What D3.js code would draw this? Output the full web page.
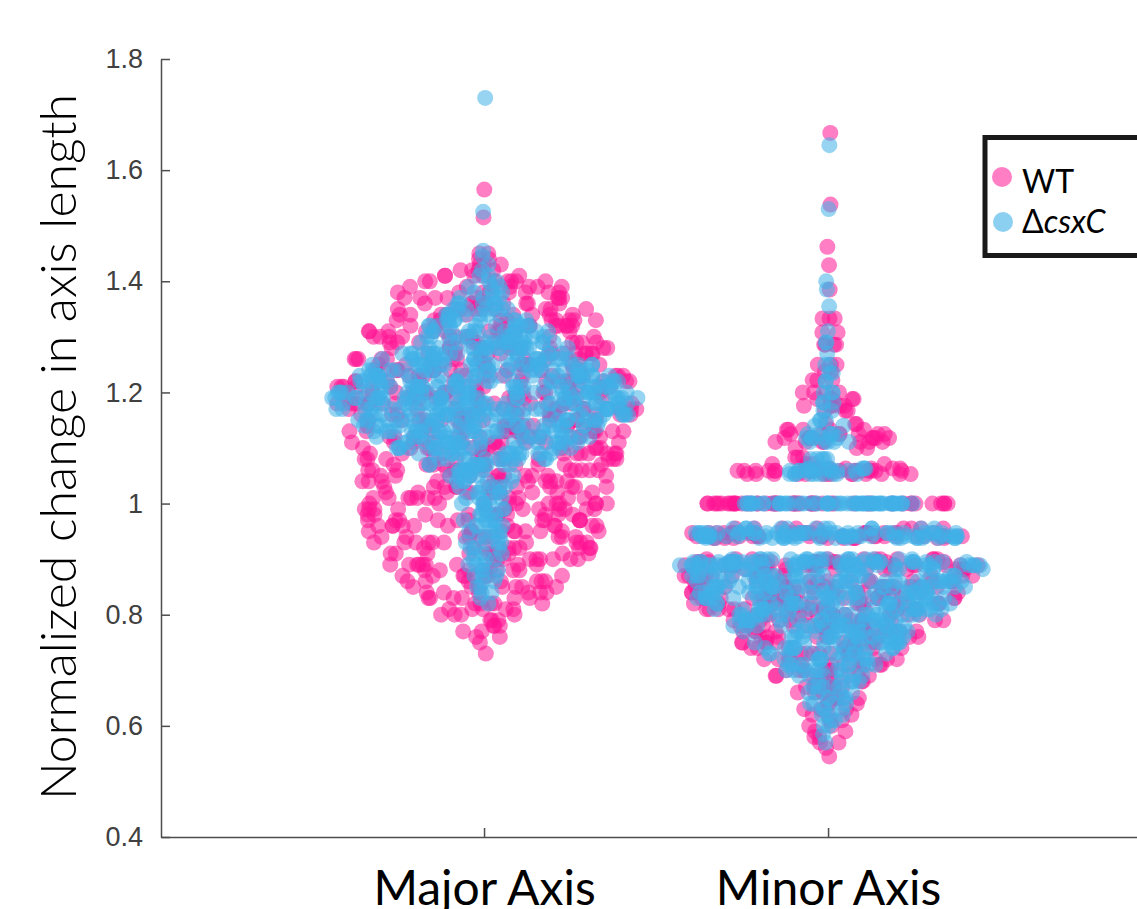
<!DOCTYPE html>
<html lang="en">
<head>
<meta charset="utf-8">
<script src="https://cdn.jsdelivr.net/npm/d3@7/dist/d3.min.js"></script>
<style>
body { margin: 0; background: #fff; }
</style>
<title>Normalized change in axis length</title>
</head>
<body>
<script>

var w = 1137;
var h = 909;

var categories = ["Major Axis", "Minor Axis"];
var seriesNames = ["WT", "csxC"];
var yTicks = [0.4, 0.6, 0.8, 1, 1.2, 1.4, 1.6, 1.8];
var yTickLabels = ["0.4", "0.6", "0.8", "1", "1.2", "1.4", "1.6", "1.8"];

// [value, number of cells at that value]
var majorWT = [[0.73,1],[0.75,1],[0.76,2],[0.77,2],[0.78,3],[0.79,3],[0.80,4],[0.81,5],[0.82,5],[0.83,6],
  [0.84,6],[0.85,7],[0.86,7],[0.87,8],[0.88,8],[0.89,9],[0.90,9],[0.91,9],[0.92,10],[0.93,10],[0.94,10],
  [0.95,10],[0.96,11],[0.97,11],[0.98,11],[0.99,11],[1.00,11],[1.01,11],[1.02,11],[1.03,11],[1.04,11],
  [1.05,11],[1.06,11],[1.07,12],[1.08,12],[1.09,12],[1.10,12],[1.11,12],[1.12,12],[1.13,13],[1.14,13],
  [1.15,13],[1.16,13],[1.17,14],[1.18,14],[1.19,14],[1.20,14],[1.21,13],[1.22,13],[1.23,13],[1.24,12],
  [1.25,12],[1.26,12],[1.27,12],[1.28,11],[1.29,11],[1.30,11],[1.31,11],[1.32,10],[1.33,10],[1.34,10],
  [1.35,9],[1.36,9],[1.37,8],[1.38,8],[1.39,7],[1.40,7],[1.41,5],[1.42,4],[1.43,3],[1.44,2],[1.45,2],
  [1.515,1],[1.565,1]];

var majorCsxC = [[0.82,1],[0.83,1],[0.84,2],[0.85,2],[0.86,2],[0.87,3],[0.88,3],[0.89,3],[0.90,3],[0.91,3],
  [0.92,3],[0.93,4],[0.94,3],[0.95,4],[0.96,4],[0.97,4],[0.98,4],[0.99,4],[1.00,4],[1.01,4],[1.02,4],
  [1.03,5],[1.04,5],[1.05,6],[1.06,8],[1.07,10],[1.08,11],[1.09,13],[1.10,16],[1.11,18],[1.12,19],
  [1.13,21],[1.14,22],[1.15,24],[1.16,26],[1.17,27],[1.18,28],[1.19,28],[1.20,27],[1.21,25],[1.22,24],
  [1.23,22],[1.24,21],[1.25,20],[1.26,18],[1.27,17],[1.28,15],[1.29,14],[1.30,13],[1.31,11],[1.32,10],
  [1.33,8],[1.34,7],[1.35,7],[1.36,5],[1.37,4],[1.38,3],[1.39,3],[1.40,2],[1.41,2],[1.42,1],[1.43,1],
  [1.445,1],[1.455,1],[1.525,1],[1.73,1]];

var minorWT = [[0.545,1],[0.56,1],[0.57,2],[0.58,2],[0.59,2],[0.60,2],[0.61,2],[0.62,3],[0.63,3],[0.64,3],
  [0.65,4],[0.66,4],[0.67,5],[0.68,5],[0.69,6],[0.70,7],[0.71,7],[0.72,7],[0.73,8],[0.74,9],[0.75,9],
  [0.76,10],[0.77,11],[0.78,12],[0.79,13],[0.80,14],[0.81,14],[0.82,15],[0.83,16],[0.84,16],[0.85,16],
  [0.86,16],[0.87,15],
  [0.882,11],[0.889,18],[0.895,18],[0.9,11],
  [0.938,11],[0.941,20],[0.947,22],[0.955,9],
  [1.0,50],
  [1.053,14],[1.059,16],[1.063,7],[1.071,4],[1.083,3],
  [1.1,3],[1.111,7],[1.118,7],[1.125,7],[1.133,5],[1.143,3],
  [1.167,3],[1.176,5],[1.188,5],[1.2,4],[1.222,3],[1.238,2],[1.25,3],[1.286,4],[1.308,2],[1.333,3],
  [1.385,1],[1.429,1],[1.462,1],[1.538,1],[1.667,1]];

var minorCsxC = [[0.57,1],[0.585,1],[0.60,2],[0.61,2],[0.62,3],[0.63,3],[0.64,4],[0.65,4],[0.66,4],[0.67,5],
  [0.68,5],[0.69,6],[0.70,8],[0.71,9],[0.72,9],[0.73,10],[0.74,12],[0.75,13],[0.76,14],[0.77,16],[0.78,17],
  [0.79,18],[0.80,20],[0.81,21],[0.82,22],[0.83,23],[0.84,25],[0.85,26],[0.86,26],[0.87,23],
  [0.882,18],[0.889,30],[0.895,30],[0.9,18],
  [0.938,18],[0.941,31],[0.947,34],[0.955,13],
  [1.0,57],
  [1.053,10],[1.059,10],[1.063,8],[1.08,5],
  [1.111,5],[1.118,5],[1.125,5],[1.14,2],[1.15,3],
  [1.167,2],[1.182,3],[1.2,3],[1.22,2],[1.235,2],[1.25,2],[1.27,1],[1.29,2],[1.31,1],[1.355,1],
  [1.385,1],[1.40,1],[1.53,1],[1.645,1]];

var pink = "#ff1493";
var blue = "#40b1e8";
var r = 8;

var svg = d3.select("body")
  .append("svg")
  .attr("width", w)
  .attr("height", h)
  .style("background", "#fff");

var xScale = d3.scaleLinear().domain([0.061, 2.898]).range([161, 1137]);
var yScale = d3.scaleLinear().domain([0.4, 1.8]).range([837, 59]);

// fixed sideways scatter for cell k (same every run)
function spread(k, seed) {
  var s = Math.sin(k * 12.9898 + seed * 78.233) * 43758.5453;
  return s - Math.floor(s);
}

// spread cells sideways, width follows the density at each value (like a swarm chart)
function swarm(levels, cat, seed) {
  var bw = 0.015;
  var dens = levels.map(function(a) {
    return d3.sum(levels, function(b) {
      var z = (a[0] - b[0]) / bw;
      return b[1] * Math.exp(-0.5 * z * z);
    });
  });
  var maxD = d3.max(dens);
  var pts = [];
  var k = 0;
  levels.forEach(function(lv, j) {
    var half = 0.45 * dens[j] / maxD;
    for (var n = 0; n < lv[1]; n++) {
      var u = spread(k, seed);
      pts.push({x: cat + (2 * u - 1) * half, y: lv[0]});
      k++;
    }
  });
  return pts;
}

var groups = [
  {pts: swarm(majorWT, 1, 1.3), color: pink},
  {pts: swarm(minorWT, 2, 4.1), color: pink},
  {pts: swarm(majorCsxC, 1, 7.7), color: blue},
  {pts: swarm(minorCsxC, 2, 2.9), color: blue}
];

groups.forEach(function(g) {
  svg.append("g")
    .selectAll("circle")
    .data(g.pts)
    .enter()
    .append("circle")
    .attr("cx", function(d) { return xScale(d.x); })
    .attr("cy", function(d) { return yScale(d.y); })
    .attr("r", r)
    .attr("fill", g.color)
    .attr("fill-opacity", 0.55);
});

var yAxis = d3.axisLeft(yScale)
  .tickValues(yTicks)
  .tickFormat(function(d, i) { return yTickLabels[i]; })
  .tickSizeInner(-9)
  .tickSizeOuter(0)
  .tickPadding(18);

var xAxis = d3.axisBottom(xScale)
  .tickValues([1, 2])
  .tickFormat(function(d) { return categories[d - 1]; })
  .tickSizeInner(-9)
  .tickSizeOuter(0)
  .tickPadding(34);

var gy = svg.append("g")
  .attr("transform", "translate(161,0)")
  .call(yAxis);
gy.selectAll("text")
  .attr("font-family", "'Liberation Sans', Arial, sans-serif")
  .attr("font-size", 27)
  .attr("fill", "#404040");

var gx = svg.append("g")
  .attr("transform", "translate(0,837)")
  .call(xAxis);
gx.selectAll("text")
  .attr("font-family", "Lato, 'Open Sans', sans-serif")
  .attr("font-size", 48)
  .attr("fill", "#000");

svg.selectAll(".domain, .tick line")
  .attr("stroke", "#4d4d4d")
  .attr("stroke-width", 1.5);

svg.append("text")
  .attr("transform", "translate(76,447) rotate(-90)")
  .attr("text-anchor", "middle")
  .attr("font-family", "Lato, 'Open Sans', sans-serif")
  .attr("font-weight", 300)
  .attr("font-size", 50)
  .attr("fill", "#000")
  .text("Normalized change in axis length");

// legend
var lg = svg.append("g");
lg.append("rect")
  .attr("x", 985)
  .attr("y", 137.5)
  .attr("width", 200)
  .attr("height", 118)
  .attr("fill", "#fff")
  .attr("stroke", "#1a1a1a")
  .attr("stroke-width", 5);

lg.append("circle").attr("cx", 1002).attr("cy", 177).attr("r", 10)
  .attr("fill", pink).attr("fill-opacity", 0.55);
lg.append("circle").attr("cx", 1003).attr("cy", 222).attr("r", 10)
  .attr("fill", blue).attr("fill-opacity", 0.6);

lg.append("text")
  .attr("x", 1022).attr("y", 193)
  .attr("font-family", "Lato, 'Open Sans', sans-serif")
  .attr("font-size", 32)
  .text(seriesNames[0]);

var t2 = lg.append("text")
  .attr("x", 1022).attr("y", 233)
  .attr("font-family", "Lato, 'Open Sans', sans-serif")
  .attr("font-size", 32);
t2.append("tspan").text("\u0394");
t2.append("tspan").attr("font-style", "italic").text(seriesNames[1]);

</script>
</body>
</html>
